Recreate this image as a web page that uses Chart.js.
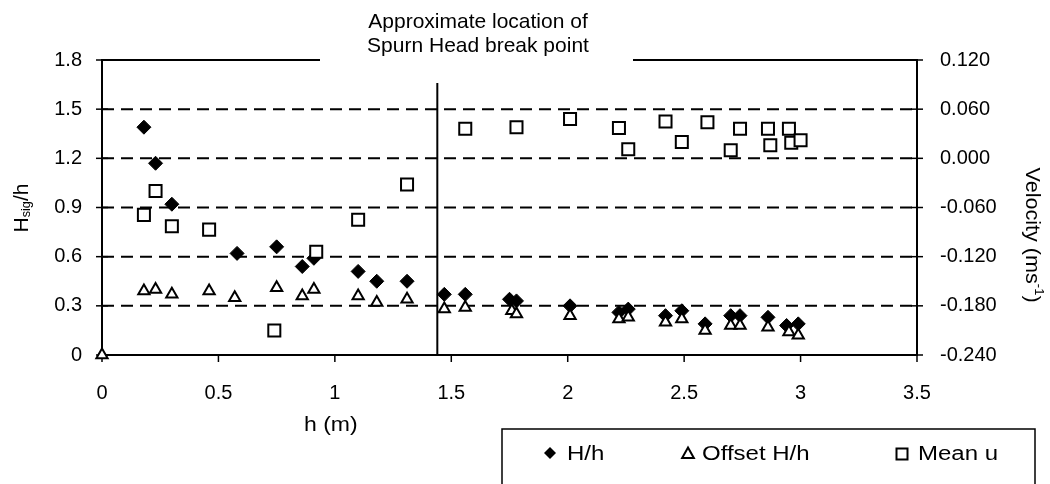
<!DOCTYPE html>
<html>
<head>
<meta charset="utf-8">
<script src="https://cdn.jsdelivr.net/npm/chart.js@4/dist/chart.umd.min.js"></script>
<style>
  html, body { margin: 0; padding: 0; background: #fff; }
</style>
</head>
<body>
<canvas id="waveChart" width="1050" height="484"></canvas>
<script>
// H/h (filled diamonds)
var hHeight = [0.18, 0.23, 0.30, 0.58, 0.75, 0.86, 0.91, 1.10, 1.18, 1.31, 1.47, 1.56, 1.75, 1.78, 2.01, 2.22, 2.26, 2.42, 2.49, 2.59, 2.70, 2.74, 2.86, 2.94, 2.99];
var heightRatio = [1.39, 1.17, 0.92, 0.62, 0.66, 0.54, 0.59, 0.51, 0.45, 0.45, 0.37, 0.37, 0.34, 0.33, 0.30, 0.26, 0.28, 0.24, 0.27, 0.19, 0.24, 0.24, 0.23, 0.18, 0.19];

// Offset H/h (open triangles)
var hOffset = [0, 0.18, 0.23, 0.30, 0.46, 0.57, 0.75, 0.86, 0.91, 1.10, 1.18, 1.31, 1.47, 1.56, 1.76, 1.78, 2.01, 2.22, 2.26, 2.42, 2.49, 2.59, 2.70, 2.74, 2.86, 2.95, 2.99];
var offsetRatio = [0, 0.39, 0.40, 0.37, 0.39, 0.35, 0.41, 0.36, 0.40, 0.36, 0.32, 0.34, 0.28, 0.29, 0.27, 0.25, 0.24, 0.22, 0.23, 0.20, 0.22, 0.15, 0.18, 0.18, 0.17, 0.14, 0.12];

// Mean u (open squares, right axis)
var hVelocity = [0.18, 0.23, 0.30, 0.46, 0.74, 0.92, 1.10, 1.31, 1.56, 1.78, 2.01, 2.22, 2.26, 2.42, 2.49, 2.60, 2.70, 2.74, 2.86, 2.87, 2.95, 2.96, 3.00];
var meanVelocity = [-0.069, -0.040, -0.083, -0.087, -0.210, -0.114, -0.075, -0.032, 0.036, 0.038, 0.048, 0.037, 0.011, 0.045, 0.020, 0.044, 0.010, 0.036, 0.036, 0.016, 0.036, 0.019, 0.022];

var xTicks = [0, 0.5, 1, 1.5, 2, 2.5, 3, 3.5];
var leftTicks = [0, 0.3, 0.6, 0.9, 1.2, 1.5, 1.8];
var rightTicks = [-0.24, -0.18, -0.12, -0.06, 0, 0.06, 0.12];

var breakH = 1.44;      // Spurn Head break point
var breakTop = 1.66;    // top of the marker line (left axis units)

var FONT = "'Liberation Sans', Arial, sans-serif";
Chart.defaults.font.family = FONT;
Chart.defaults.font.size = 20;
Chart.defaults.color = "#000";

function toPoints(xs, ys) {
    return xs.map(function (x, i) { return { x: x, y: ys[i] }; });
}

function useTicks(list) {
    return function (scale) {
        scale.ticks = list.map(function (v) { return { value: v }; });
    };
}

function line(ctx, x1, y1, x2, y2) {
    ctx.beginPath();
    ctx.moveTo(x1, y1);
    ctx.lineTo(x2, y2);
    ctx.stroke();
}

// text made of runs: [text, size, baseline shift]
function richText(ctx, runs, x, y, angle, sx) {
    ctx.save();
    ctx.translate(x, y);
    ctx.rotate(angle);
    ctx.scale(sx, 1);
    var total = 0;
    runs.forEach(function (r) {
        ctx.font = r[1] + "px " + FONT;
        total += ctx.measureText(r[0]).width;
    });
    var cx = -total / 2;
    ctx.textAlign = "left";
    ctx.textBaseline = "middle";
    runs.forEach(function (r) {
        ctx.font = r[1] + "px " + FONT;
        ctx.fillText(r[0], cx, r[2]);
        cx += ctx.measureText(r[0]).width;
    });
    ctx.restore();
}

function stretchText(ctx, str, x, y, sx, size) {
    ctx.save();
    ctx.translate(x, y);
    ctx.scale(sx, 1);
    ctx.font = size + "px " + FONT;
    ctx.textAlign = "left";
    ctx.textBaseline = "alphabetic";
    ctx.fillText(str, 0, 0);
    ctx.restore();
}

function marker(ctx, style, x, y, r) {
    ctx.save();
    ctx.lineWidth = 2;
    ctx.strokeStyle = "#000";
    ctx.beginPath();
    if (style === "diamond") {
        ctx.moveTo(x, y - r); ctx.lineTo(x + r, y); ctx.lineTo(x, y + r); ctx.lineTo(x - r, y);
        ctx.closePath();
        ctx.fillStyle = "#000";
        ctx.fill();
    } else if (style === "triangle") {
        ctx.moveTo(x, y - r); ctx.lineTo(x + r * 0.9, y + r * 0.6); ctx.lineTo(x - r * 0.9, y + r * 0.6);
        ctx.closePath();
        ctx.stroke();
    } else {
        ctx.rect(x - r, y - r, 2 * r, 2 * r);
        ctx.stroke();
    }
    ctx.restore();
}

var decor = {
    id: "decor",
    beforeDatasetsDraw: function (chart) {
        var ctx = chart.ctx, a = chart.chartArea;
        var sx = chart.scales.x, sy = chart.scales.y, sy2 = chart.scales.y2;
        ctx.save();
        ctx.strokeStyle = "#000";

        // dashed grid lines
        ctx.lineWidth = 2;
        ctx.setLineDash([12, 7]);
        leftTicks.slice(1, -1).forEach(function (v) {
            var py = sy.getPixelForValue(v);
            line(ctx, a.left, py, a.right, py);
        });
        ctx.setLineDash([]);

        // frame
        ctx.lineWidth = 2;
        line(ctx, a.left, a.top - 1, a.left, a.bottom + 1);
        line(ctx, a.right, a.top - 1, a.right, a.bottom + 1);
        line(ctx, a.left, a.bottom, a.right, a.bottom);
        line(ctx, a.left, a.top, 320, a.top);
        line(ctx, 633, a.top, a.right, a.top);

        // tick marks
        ctx.lineWidth = 1.5;
        leftTicks.forEach(function (v) {
            var py = sy.getPixelForValue(v);
            line(ctx, a.left - 6, py, a.left + 6, py);
        });
        rightTicks.forEach(function (v) {
            var py = sy2.getPixelForValue(v);
            line(ctx, a.right - 6, py, a.right + 6, py);
        });
        xTicks.forEach(function (v) {
            var px = sx.getPixelForValue(v);
            line(ctx, px, a.bottom, px, a.bottom + 7);
        });

        // break point marker
        ctx.lineWidth = 2;
        var bx = sx.getPixelForValue(breakH);
        line(ctx, bx, sy.getPixelForValue(breakTop), bx, a.bottom);
        ctx.restore();
    },
    afterDraw: function (chart) {
        var ctx = chart.ctx;
        ctx.save();
        ctx.fillStyle = "#000";

        // annotation
        ctx.font = "21px " + FONT;
        ctx.textAlign = "center";
        ctx.textBaseline = "alphabetic";
        ctx.fillText("Approximate location of", 478, 28);
        ctx.fillText("Spurn Head break point", 478, 52);

        // axis titles
        richText(ctx, [["H", 20, 0], ["sig", 12, 5], ["/h", 20, 0]], 22, 208, -Math.PI / 2, 1.05);
        richText(ctx, [["Velocity (ms", 20, 0], ["-1", 12, -6], [")", 20, 0]], 1032, 235, Math.PI / 2, 1.08);
        stretchText(ctx, "h (m)", 304, 431, 1.15, 20);

        // legend box
        ctx.strokeStyle = "#000";
        ctx.lineWidth = 1.5;
        ctx.beginPath();
        ctx.moveTo(502, 490);
        ctx.lineTo(502, 429);
        ctx.lineTo(1035, 429);
        ctx.lineTo(1035, 490);
        ctx.stroke();

        marker(ctx, "diamond", 550, 453, 6);
        stretchText(ctx, "H/h", 567, 460, 1.2, 20);
        marker(ctx, "triangle", 688, 454, 6.5);
        stretchText(ctx, "Offset H/h", 702, 460, 1.2, 20);
        marker(ctx, "square", 902, 454, 5.5);
        stretchText(ctx, "Mean u", 918, 460, 1.2, 20);
        ctx.restore();
    }
};

var ctx = document.getElementById("waveChart").getContext("2d");
var myChart = new Chart(ctx, {
    type: "scatter",
    data: {
        datasets: [
            {
                label: "H/h",
                data: toPoints(hHeight, heightRatio),
                yAxisID: "y",
                pointStyle: "rectRot",
                pointRadius: 7,
                backgroundColor: "#000",
                borderColor: "#000",
                borderWidth: 1,
                order: 3,
                clip: false,
            },
            {
                label: "Offset H/h",
                data: toPoints(hOffset, offsetRatio),
                yAxisID: "y",
                pointStyle: "triangle",
                pointRadius: 6.5,
                backgroundColor: "#fff",
                borderColor: "#000",
                borderWidth: 2,
                order: 2,
                clip: false,
            },
            {
                label: "Mean u",
                data: toPoints(hVelocity, meanVelocity),
                yAxisID: "y2",
                pointStyle: "rect",
                pointRadius: 8.5,
                backgroundColor: "#fff",
                borderColor: "#000",
                borderWidth: 2,
                order: 1,
                clip: false,
            },
        ],
    },
    options: {
        responsive: false,
        animation: false,
        devicePixelRatio: 1,
        layout: { padding: { top: 60, left: 0, right: 0, bottom: 0 } },
        plugins: {
            legend: { display: false },
            tooltip: { enabled: false },
        },
        scales: {
            x: {
                type: "linear",
                position: "bottom",
                min: 0,
                max: 3.5,
                afterBuildTicks: useTicks(xTicks),
                afterFit: function (s) { s.height = 129; },
                grid: { display: false, drawTicks: false },
                border: { display: false },
                ticks: {
                    padding: 26,
                    maxRotation: 0,
                    callback: function (v) { return String(+v.toFixed(2)); },
                },
            },
            y: {
                type: "linear",
                position: "left",
                min: 0,
                max: 1.8,
                afterBuildTicks: useTicks(leftTicks),
                afterFit: function (s) { s.width = 102; },
                grid: { display: false, drawTicks: false },
                border: { display: false },
                ticks: {
                    padding: 20,
                    callback: function (v) { return String(+v.toFixed(2)); },
                },
            },
            y2: {
                type: "linear",
                position: "right",
                min: -0.24,
                max: 0.12,
                afterBuildTicks: useTicks(rightTicks),
                afterFit: function (s) { s.width = 133; },
                grid: { display: false, drawTicks: false },
                border: { display: false },
                ticks: {
                    padding: 23,
                    callback: function (v) { return (Math.abs(v) < 1e-9 ? 0 : v).toFixed(3); },
                },
            },
        },
    },
    plugins: [decor],
});
</script>
</body>
</html>
